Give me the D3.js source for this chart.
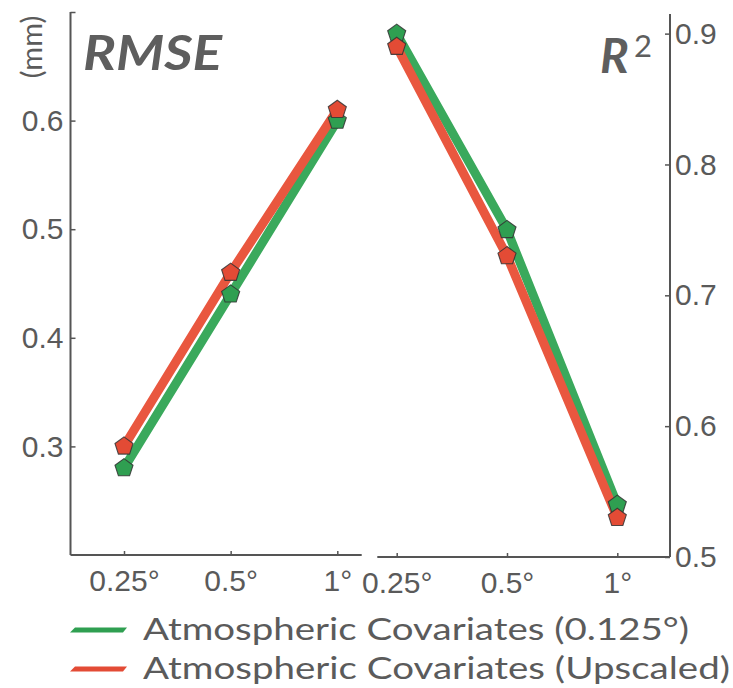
<!DOCTYPE html>
<html>
<head>
<meta charset="utf-8">
<script src="https://cdn.jsdelivr.net/npm/d3@7"></script>
<style>
  html, body { margin: 0; padding: 0; background: #fff; }
  svg { display: block; font-family: Lato, "Open Sans", sans-serif; }
  .axis text { fill: #5a5a5a; }
  .axis line { stroke: #555; stroke-width: 1.5; }
</style>
</head>
<body>
<svg id="chart" width="733" height="688"></svg>
<script>
// Spatial resolutions on the x axis
const resolutions = ["0.25°", "0.5°", "1°"];

// RMSE (mm) per resolution
const rmseNative = [0.28, 0.44, 0.60];
const rmseUpscaled = [0.30, 0.46, 0.61];

// R² per resolution
const r2Native = [0.90, 0.75, 0.54];
const r2Upscaled = [0.89, 0.73, 0.53];

// Axis ticks
const rmseTicks = [0.3, 0.4, 0.5, 0.6, 0.7];
const r2Ticks = [0.5, 0.6, 0.7, 0.8, 0.9];

const seriesNames = ["Atmospheric Covariates (0.125°)", "Atmospheric Covariates (Upscaled)"];
const lineColors = ["#3aa95c", "#e9573f"];
const markerColors = ["#2f9f51", "#e34b35"];

const svg = d3.select("#chart");
const textColor = "#5b5b5b";

// Pentagon marker, pointing up
function pentagon(r) {
  const pts = d3.range(5).map(i => {
    const a = -Math.PI / 2 + i * 2 * Math.PI / 5;
    return [r * Math.cos(a), r * Math.sin(a)];
  });
  return d3.line()(pts) + "Z";
}

function panel(opts) {
  const { x, y, series, xLine, yLine, side, ticks } = opts;
  const g = svg.append("g");

  // x axis
  const xa = g.append("g").attr("class", "axis")
    .attr("transform", `translate(0,${yLine})`)
    .call(d3.axisBottom(x).tickSize(-4).tickSizeOuter(0));
  xa.select(".domain").remove();
  xa.selectAll("text").attr("y", 36).attr("dy", 0)
    .attr("font-size", 30).attr("fill", textColor);
  g.append("line")
    .attr("x1", xLine[0]).attr("x2", xLine[1])
    .attr("y1", yLine).attr("y2", yLine)
    .attr("stroke", "#555").attr("stroke-width", 2);

  // y axis
  const axisFn = side === "left" ? d3.axisLeft(y) : d3.axisRight(y);
  const ya = g.append("g").attr("class", "axis")
    .attr("transform", `translate(${side === "left" ? xLine[0] : xLine[1]},0)`)
    .call(axisFn.tickValues(ticks).tickSize(-5).tickSizeOuter(0).tickPadding(side === "left" ? 7 : 5)
      .tickFormat(d => (side === "left" && d > 0.65) ? "" : d3.format(".1f")(d)));
  ya.select(".domain").remove();
  ya.selectAll("text").attr("font-size", 30).attr("fill", textColor);
  const yr = y.range();
  g.append("line")
    .attr("x1", side === "left" ? xLine[0] : xLine[1])
    .attr("x2", side === "left" ? xLine[0] : xLine[1])
    .attr("y1", yr[0]).attr("y2", yr[1])
    .attr("stroke", "#555").attr("stroke-width", 2);

  // lines
  const line = d3.line().x((d, i) => x(resolutions[i])).y(d => y(d));
  series.forEach((s, k) => {
    g.append("path").datum(s)
      .attr("d", line)
      .attr("fill", "none")
      .attr("stroke", lineColors[k])
      .attr("stroke-width", 9)
      .attr("stroke-linejoin", "round");
  });
  // markers
  series.forEach((s, k) => {
    g.selectAll(null).data(s).join("path")
      .attr("d", pentagon(9.5))
      .attr("transform", (d, i) => `translate(${x(resolutions[i])},${y(d)})`)
      .attr("fill", markerColors[k])
      .attr("stroke", "#333")
      .attr("stroke-width", 1.1)
      .attr("stroke-opacity", 0.85);
  });
}

// RMSE panel
const xLeft = d3.scalePoint().domain(resolutions).range([124, 337.3]);
const yLeft = d3.scaleLinear().domain([0.2, 0.7]).range([555, 12]);
panel({ x: xLeft, y: yLeft, series: [rmseNative, rmseUpscaled],
        xLine: [70.5, 361.7], yLine: 555, side: "left", ticks: rmseTicks });

// R² panel
const xRight = d3.scalePoint().domain(resolutions).range([396.7, 617.3]);
const yRight = d3.scaleLinear().domain([0.5, 0.915]).range([557, 14]);
panel({ x: xRight, y: yRight, series: [r2Native, r2Upscaled],
        xLine: [377.3, 670], yLine: 557, side: "right", ticks: r2Ticks });

// Titles
svg.append("text").attr("x", 83).attr("y", 70)
  .attr("font-size", 48).attr("font-weight", 700).attr("font-style", "italic")
  .attr("fill", "#5e5e5e").attr("textLength", 139).attr("lengthAdjust", "spacingAndGlyphs")
  .text("RMSE");
svg.append("text").attr("x", 600).attr("y", 73)
  .attr("font-size", 48).attr("font-weight", 700).attr("font-style", "italic")
  .attr("fill", "#5e5e5e").text("R");
svg.append("text").attr("x", 634).attr("y", 57)
  .attr("font-size", 31).attr("fill", "#5e5e5e").text("2");

// Unit label
svg.append("text")
  .attr("transform", "translate(42,47) rotate(-90)")
  .attr("text-anchor", "middle")
  .attr("font-size", 29).attr("fill", textColor)
  .text("(mm)");

// Legend
const legendY = [630, 669];
const legendEnds = [689, 730];
seriesNames.forEach((name, k) => {
  const yy = legendY[k];
  svg.append("path")
    .attr("d", `M75,${yy - 2.6}L127,${yy - 2.6}L123,${yy + 2.6}L70,${yy + 2.6}Z`)
    .attr("fill", markerColors[k]);
  svg.append("text")
    .attr("x", 143).attr("y", yy + 9.5)
    .attr("font-size", 31).attr("fill", textColor)
    .attr("textLength", legendEnds[k] - 143).attr("lengthAdjust", "spacingAndGlyphs")
    .text(name);
});
</script>
</body>
</html>
